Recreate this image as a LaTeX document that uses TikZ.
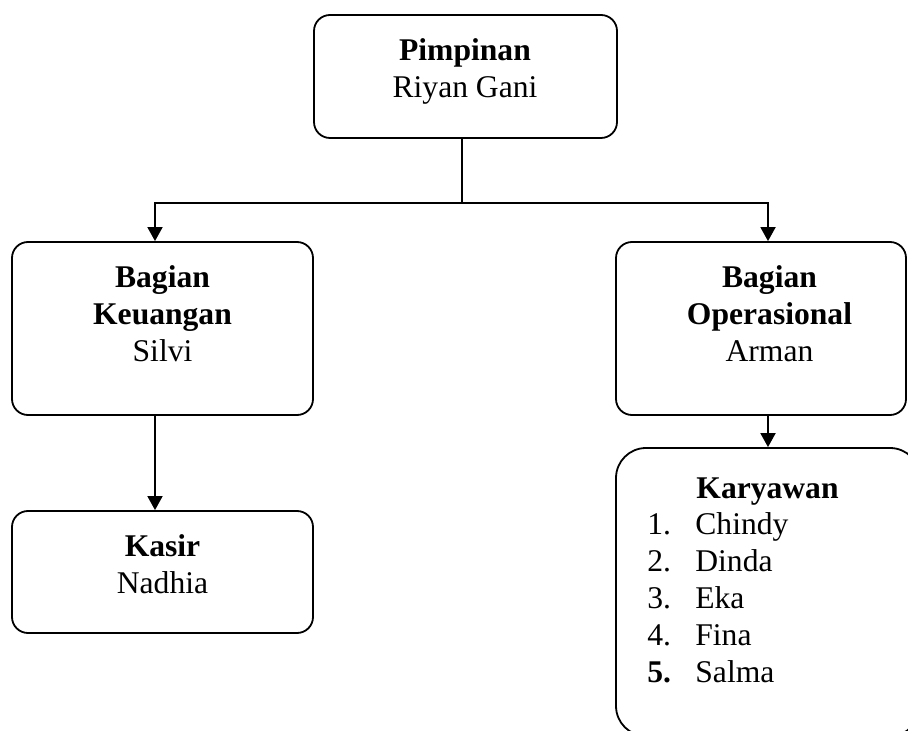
\documentclass[tikz,border=0pt]{standalone}
\usepackage{fontspec}
\setmainfont{Liberation Serif}
\usetikzlibrary{arrows.meta}
\tikzset{
  box/.style={draw, line width=0.9pt, rounded corners=8pt, inner sep=0pt},
  txt/.style={inner sep=0pt, anchor=base, font=\fontsize{15.8}{18.5}\selectfont},
  conn/.style={line width=0.9pt},
  arrow/.style={conn, -{Triangle[width=7.5pt,length=7pt]}}
}

\begin{document}
\begin{tikzpicture}[x=0.5pt, y=-0.5pt]
		%%%%% START %%%%%
		\useasboundingbox (0, 0) rectangle (908, 731);
		\clip (0, 0) rectangle (908, 731);
		
		\node[box, minimum width=151.5pt, minimum height=61.5pt] (pimpinan) at (465.5, 76.5) {};
		\node[txt] (pimpinan-txt) at (465, 61) {\begin{tabular}[t]{@{}c@{}}\textbf{Pimpinan}\\Riyan Gani\end{tabular}};
		
		\node[box, minimum width=150.5pt, minimum height=86.5pt] (keuangan) at (162.5, 328.5) {};
		\node[txt] (keuangan-txt) at (162.5, 288) {\begin{tabular}[t]{@{}c@{}}\textbf{Bagian}\\\textbf{Keuangan}\\Silvi\end{tabular}};
		
		\node[box, minimum width=145pt, minimum height=86.5pt] (operasional) at (761, 328.5) {};
		\node[txt] (operasional-txt) at (769.5, 288) {\begin{tabular}[t]{@{}c@{}}\textbf{Bagian}\\\textbf{Operasional}\\Arman\end{tabular}};
		
		\node[box, minimum width=150.5pt, minimum height=61pt] (kasir) at (162.5, 572) {};
		\node[txt] (kasir-txt) at (162.5, 556) {\begin{tabular}[t]{@{}c@{}}\textbf{Kasir}\\Nadhia\end{tabular}};
		
		\node[box, rounded corners=15pt, minimum width=152pt, minimum height=144pt] (karyawan) at (768, 592) {};
		\node[txt] (karyawan-txt) at (767.5, 498) {\textbf{Karyawan}};
		\node[txt, anchor=base west] (karyawan-list) at (647, 534) {\begin{tabular}[t]{@{}l@{}}
			\makebox[24pt][l]{1.}Chindy\\
			\makebox[24pt][l]{2.}Dinda\\
			\makebox[24pt][l]{3.}Eka\\
			\makebox[24pt][l]{4.}Fina\\
			\makebox[24pt][l]{\textbf{5.}}Salma
		\end{tabular}};
		
		\coordinate (fork) at (462, 203);
		\coordinate (left-x) at (155, 203);
		\coordinate (right-x) at (768, 203);
		
		\draw[conn] (pimpinan.south -| fork) -- (fork);
		\draw[arrow] (fork) -- (left-x) -- (left-x |- keuangan.north);
		\draw[arrow] (fork) -- (right-x) -- (right-x |- operasional.north);
		\draw[arrow] (left-x |- keuangan.south) -- (left-x |- kasir.north);
		\draw[arrow] (right-x |- operasional.south) -- (right-x |- karyawan.north);
		%%%%% END %%%%%
\end{tikzpicture}
\end{document}
